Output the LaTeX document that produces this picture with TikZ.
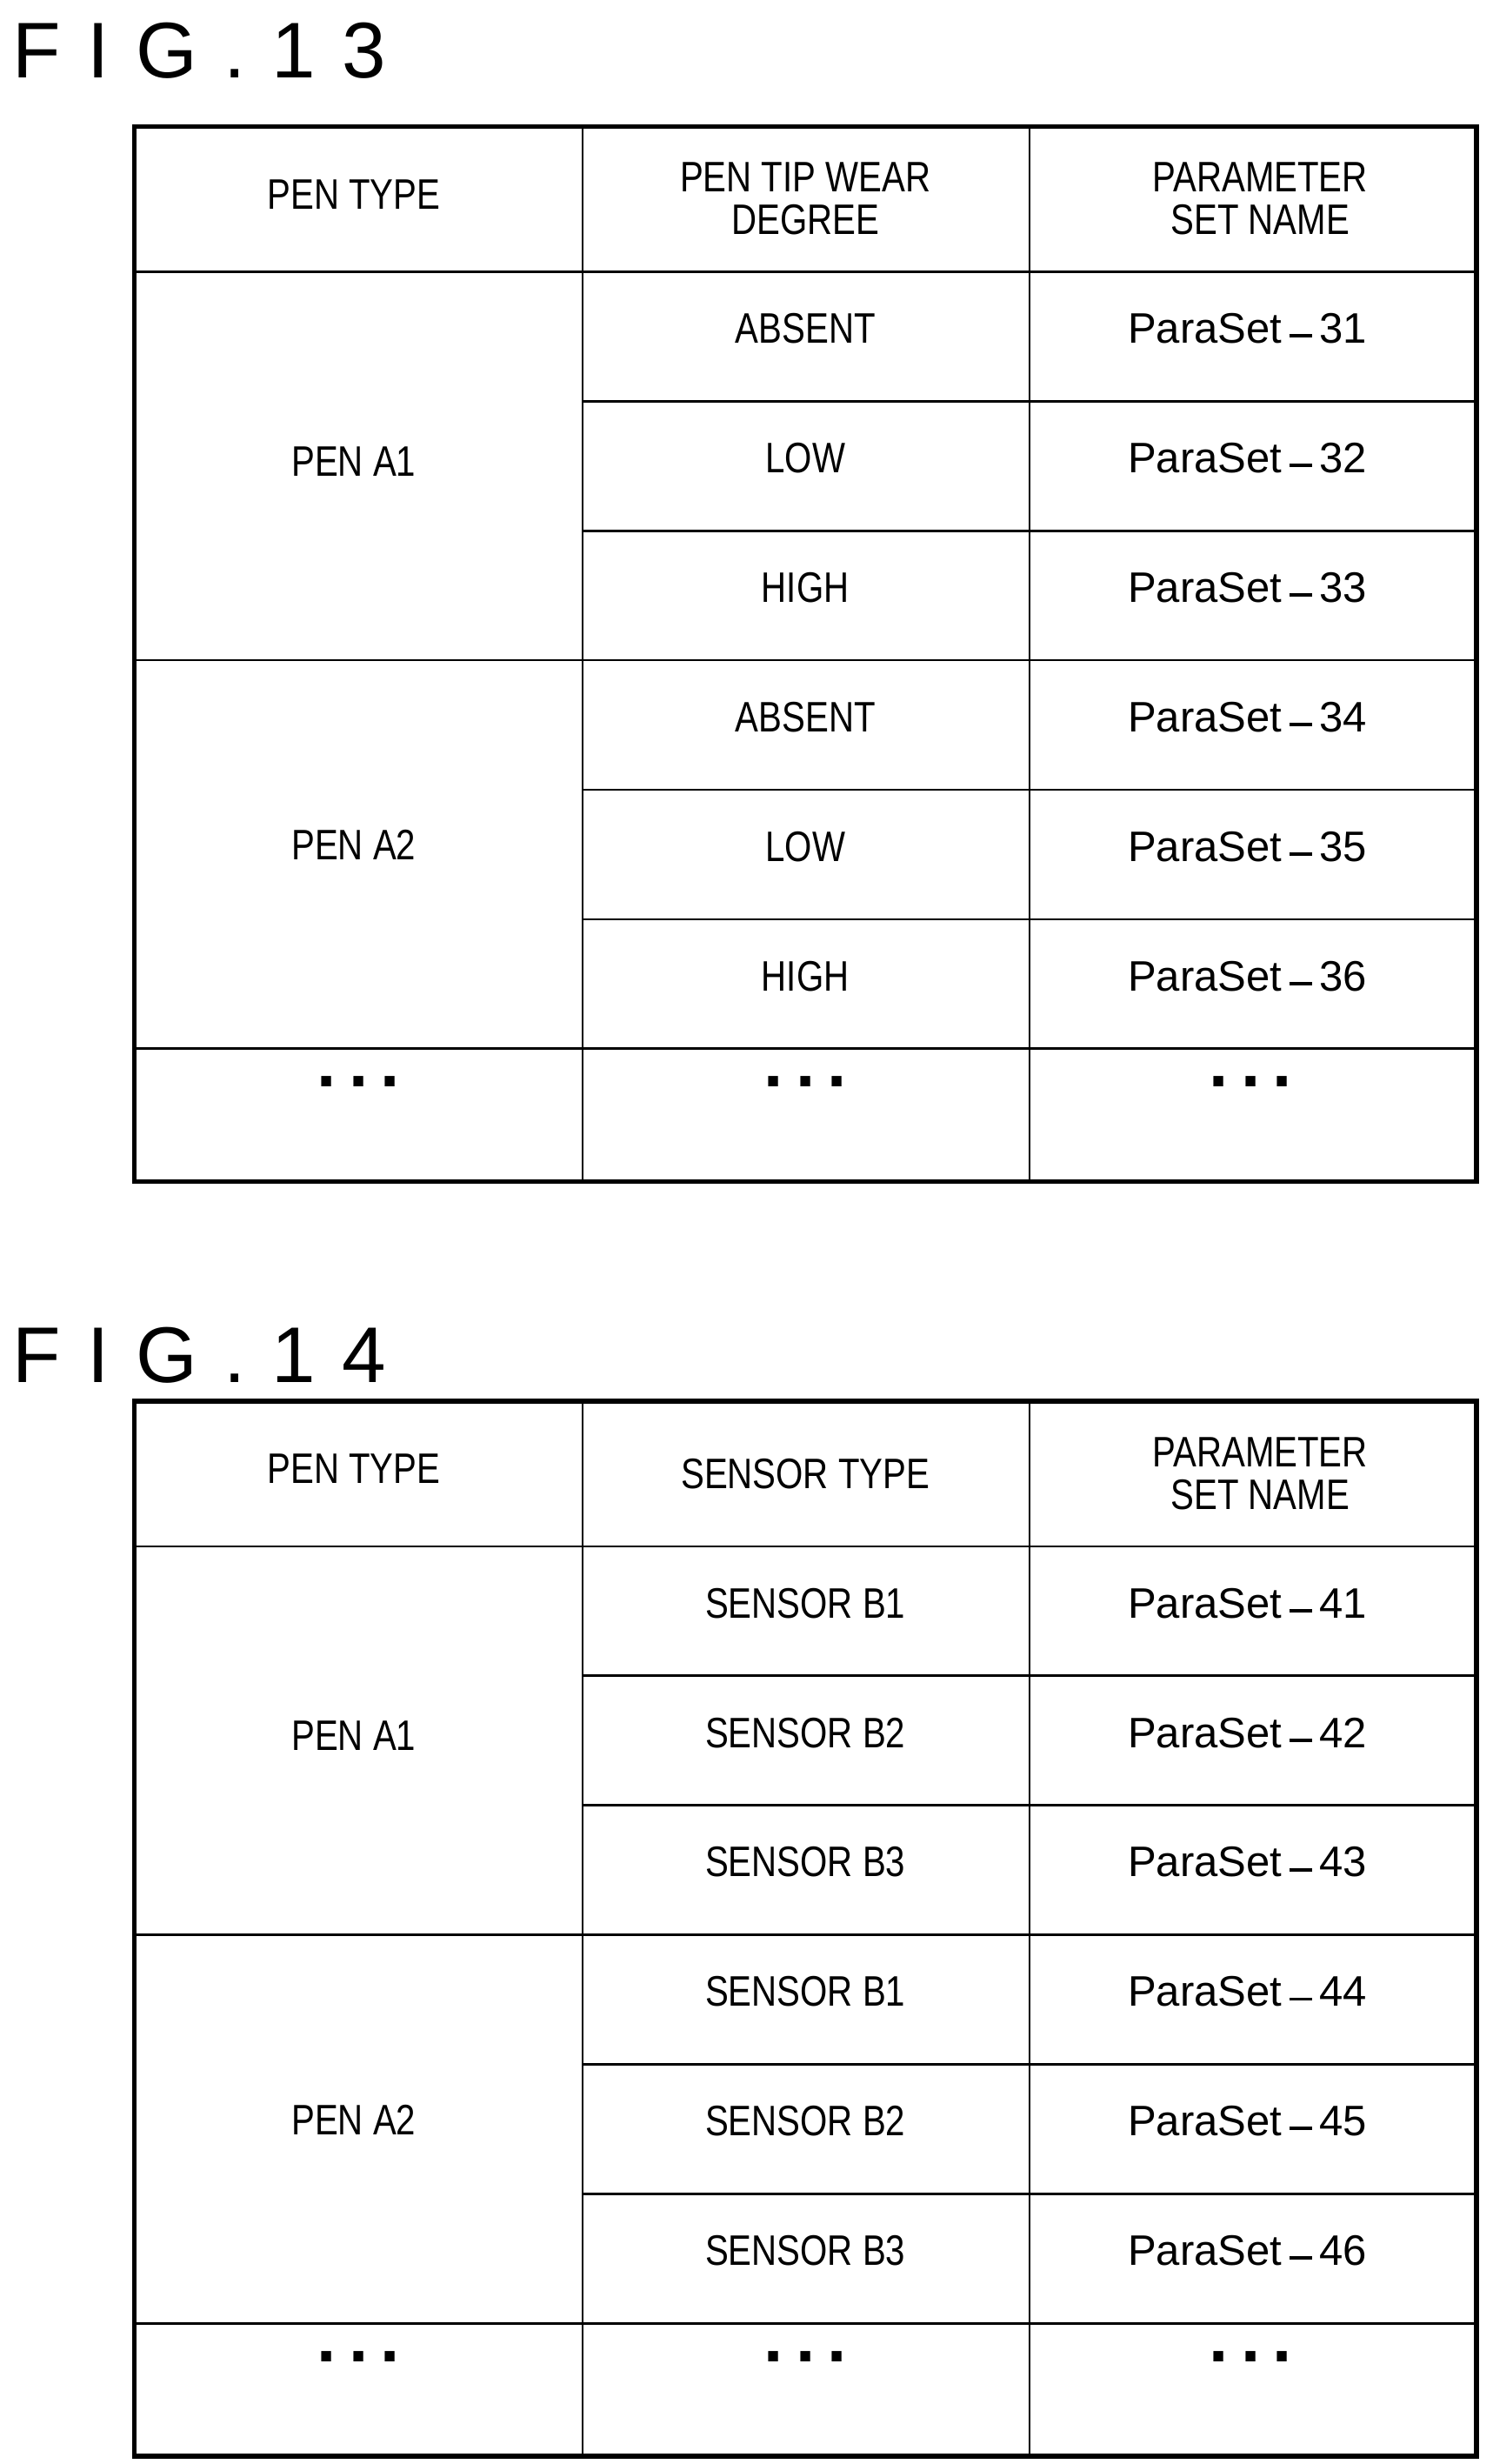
\documentclass[tikz,border=0pt]{standalone}
\usepackage{fontspec}
\setmainfont{Liberation Sans}[FakeStretch=0.82]
\newfontfamily\figfont{Liberation Sans}
\usetikzlibrary{positioning}
\tikzstyle{cell}=[font=\fontsize{27}{27}\selectfont,align=center,inner sep=0]
\tikzstyle{setcell}=[font=\figfont\fontsize{27}{27}\selectfont,inner sep=0]
\tikzstyle{dotcell}=[font=\figfont\fontsize{44}{44}\selectfont\bfseries,inner sep=0]
\tikzstyle{figlbl}=[font=\figfont\fontsize{50}{50}\selectfont,anchor=west,inner sep=0]
\tikzstyle{grid}=[line width=1.5pt]
\tikzstyle{frame}=[line width=3pt]
\newcommand{\partable}[5]{% #1 top y, #2 name, #3 col2 head, #4 first set no, #5 col2 entries
  \draw[grid] (85,#1+92) -- (935,#1+92);
  \foreach \r in {1,2,4,5} \draw[grid] (369,#1+92+82*\r) -- (935,#1+92+82*\r);
  \foreach \r in {3,6} \draw[grid] (85,#1+92+82*\r) -- (935,#1+92+82*\r);
  \draw[grid] (369,#1) -- (369,#1+668) (652,#1) -- (652,#1+668);
  \draw[frame] (85,#1) rectangle (935,#1+668);
  \node[cell] (#2h1) at (224,#1+43) {PEN TYPE};
  \node[cell] (#2h2) at (510,#1+46) {#3};
  \node[cell] (#2h3) at (798,#1+46) {PARAMETER\\SET NAME};
  \node[cell] (#2p1) at (224,#1+212) {PEN A1};
  \node[cell] (#2p2) at (224,#1+455) {PEN A2};
  \foreach \t [count=\i from 0] in {#5} {
    \pgfmathtruncatemacro{\n}{#4+\i}
    \node[cell] (#2c\i) at (510,#1+128+82*\i) {\t};
    \node[setcell] (#2s\i) at (790,#1+128+82*\i) {ParaSet\,\raisebox{0.25ex}{\rule{0.55em}{0.08em}}\,\n};
  }
  \foreach \x [count=\i] in {227,510,792}
    \node[dotcell] (#2d\i) at (\x,#1+605) {.\hspace{0.18em}.\hspace{0.18em}.};
}
\begin{document}
\begin{tikzpicture}[x=1pt,y=-1pt]
  \useasboundingbox (0,0) rectangle (945,1560);
  \node[figlbl] (fig13) at (8,32) {F\,\,I\,\,G\,\,.\,\,1\,\,3};
  \partable{80}{ta}{PEN TIP WEAR\\DEGREE}{31}{ABSENT,LOW,HIGH,ABSENT,LOW,HIGH}
  \node[figlbl] (fig14) at (8,858) {F\,\,I\,\,G\,\,.\,\,1\,\,4};
  \partable{887}{tb}{SENSOR TYPE}{41}{SENSOR B1,SENSOR B2,SENSOR B3,SENSOR B1,SENSOR B2,SENSOR B3}
\end{tikzpicture}
\end{document}
